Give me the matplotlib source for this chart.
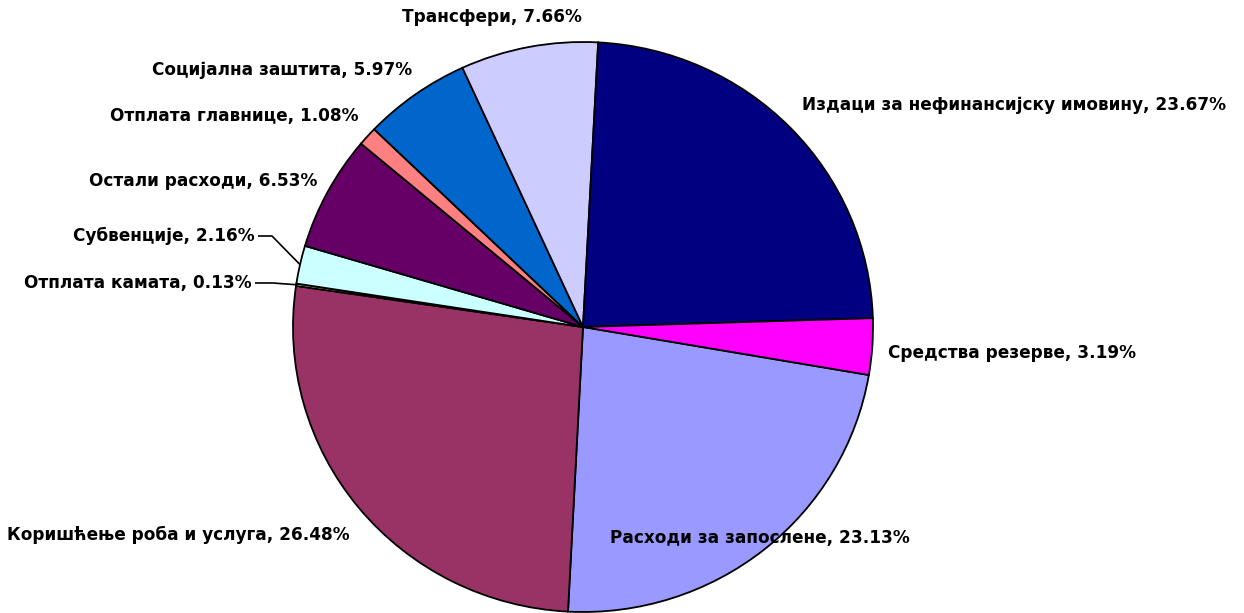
import numpy as np
import matplotlib
matplotlib.use('Agg')
from matplotlib import pyplot as plt

# slices in series order (drawn clockwise)
labels = ['Расходи за запослене', 'Коришћење роба и услуга', 'Отплата камата',
          'Субвенције', 'Остали расходи', 'Отплата главнице',
          'Социјална заштита', 'Трансфери',
          'Издаци за нефинансијску имовину', 'Средства резерве']
shares = [23.13, 26.48, 0.13, 2.16, 6.53, 1.08, 5.97, 7.66, 23.67, 3.19]
colors = ['#9999FF', '#993366', '#FFFFCC', '#CCFFFF', '#660066', '#FF8080',
          '#0066CC', '#CCCCFF', '#000080', '#FF00FF']

W, H = 1244, 613
CX, CY = 583, 327          # pie centre, pixels from top-left
RX, RY = 290, 285          # slightly squashed like the original
S = RY / RX

# label anchors in pixels (x, y, horizontal alignment)
label_pos = [(610, 538, 'left'), (350, 535, 'right'), (252, 283, 'right'),
             (255, 236, 'right'), (317, 181, 'right'), (358, 116, 'right'),
             (412, 70, 'right'), (492, 17, 'center'), (802, 105, 'left'),
             (888, 353, 'left')]
leaders = {2: 273, 3: 272}   # labels with a leader line -> elbow x


def px(x, y):
    # pixel coords -> data coords
    return x, (CY - y) / S


fig = plt.figure(figsize=(W / 100, H / 100), dpi=100)
ax = fig.add_axes([0, 0, 1, 1])

wedges, _ = ax.pie(shares, colors=colors, startangle=-9.7, counterclock=False,
                   radius=RX, center=(CX, 0), frame=True,
                   wedgeprops=dict(edgecolor='black', linewidth=1.3))
ax.set_aspect('auto')
ax.set_xlim(0, W)
ax.set_ylim((CY - H) / S, CY / S)
ax.axis('off')

for i, (lab, v) in enumerate(zip(labels, shares)):
    x, y, ha = label_pos[i]
    tx, ty = px(x, y)
    ax.text(tx, ty, f'{lab}, {v:.2f}%', ha=ha, va='center',
            fontsize=12.2, fontweight='bold', family='DejaVu Sans', color='black')
    if i in leaders:
        w = wedges[i]
        mid = np.deg2rad((w.theta1 + w.theta2) / 2)
        ex, ey = CX + RX * np.cos(mid), RX * np.sin(mid)
        ax.plot([tx + 3, leaders[i], ex], [ty, ty, ey], color='black',
                lw=1.2, solid_capstyle='butt')

fig.savefig('out.png', dpi=100, facecolor='white')
